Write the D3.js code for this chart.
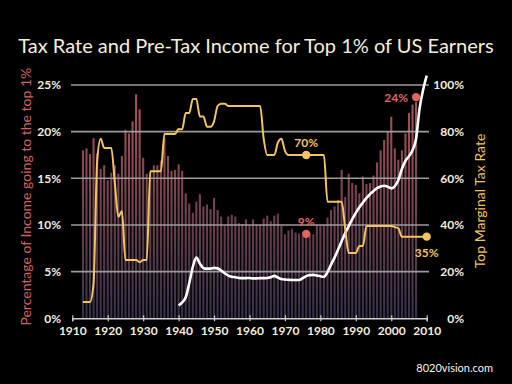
<!DOCTYPE html>
<html>
<head>
<meta charset="utf-8">
<script src="https://cdn.jsdelivr.net/npm/d3@7"></script>
<style>
  html, body { margin: 0; padding: 0; background: #000; }
  svg { display: block; }
</style>
</head>
<body>
<div id="chart"></div>
<script>
// Share of pre-tax income going to the top 1%, one bar per year from 1913
const incomeStart = 1913
const incomeShare = [
  18.0, 18.2, 17.6, 19.3, 17.7, 16.0, 16.4, 14.8, 15.6, 16.4,
  15.5, 17.4, 20.2, 19.8, 21.1, 24.0, 22.4, 17.2, 15.5, 15.7,
  16.4, 16.4, 16.9, 19.3, 17.4, 15.8, 15.9, 16.5, 15.8, 13.4,
  12.3, 11.3, 12.5, 13.3, 12.0, 12.2, 11.7, 12.9, 11.6, 10.9,
  9.9, 10.9, 11.1, 10.9, 10.2, 10.1, 10.6, 10.0, 10.6, 10.0,
  10.0, 10.7, 11.0, 10.4, 11.0, 11.2, 9.9, 9.0, 9.4, 9.6,
  9.2, 9.1, 8.9, 8.9, 9.0, 9.0, 10.0, 10.0, 10.0, 10.8,
  11.6, 12.0, 12.7, 15.9, 13.0, 15.5, 14.5, 14.3, 13.4, 15.2,
  14.4, 14.5, 15.3, 16.7, 18.0, 19.1, 20.0, 21.6, 18.2, 17.0,
  18.0, 19.8, 22.0, 22.9, 23.2
]

// Top marginal tax rate (right axis)
const taxYears = [1913, 1915, 1916, 1917, 1918, 1919, 1921, 1922, 1923, 1924,
  1925, 1928, 1929, 1930, 1931, 1932, 1935, 1936, 1939, 1940,
  1941, 1942, 1943, 1944, 1945, 1946, 1947, 1948, 1949, 1950,
  1951, 1952, 1953, 1954, 1963, 1964, 1965, 1967, 1968, 1969,
  1970, 1971, 1981, 1982, 1986, 1987, 1988, 1990, 1991, 1992,
  1993, 2000, 2001, 2002, 2003, 2010]
const taxRates = [7, 7, 15, 67, 77, 73, 73, 58, 43.5, 46,
  25, 25, 24, 25, 25, 63, 63, 79, 79, 81.1,
  81, 88, 88, 94, 94, 86.5, 86.5, 82.1, 82.1, 84.4,
  91, 92, 92, 91, 91, 77, 70, 70, 75.3, 77,
  71.8, 70, 70, 50, 50, 38.5, 28, 28, 31, 31,
  39.6, 39.6, 39.1, 38.6, 35, 35]

// White trend line (right axis scale)
const trendYears = [1940, 1941, 1942, 1943, 1944, 1945, 1946, 1947, 1948, 1949,
  1950, 1951, 1952, 1953, 1954, 1955, 1956, 1957, 1958, 1959,
  1960, 1961, 1962, 1963, 1964, 1965, 1966, 1967, 1968, 1969,
  1970, 1971, 1972, 1973, 1974, 1975, 1976, 1977, 1978, 1979,
  1980, 1981, 1982, 1983, 1984, 1985, 1986, 1987, 1988, 1989,
  1990, 1991, 1992, 1993, 1994, 1995, 1996, 1997, 1998, 1999,
  2000, 2001, 2002, 2003, 2004, 2005, 2006, 2007, 2008, 2009, 2010]
const trendValues = [5.5, 6.8, 9, 15, 22, 26, 23.5, 21.5, 21.3, 21.3,
  21.6, 21.4, 20.5, 19.3, 18.3, 17.8, 17.6, 17.3, 17.2, 17.2,
  17.3, 17.1, 17.1, 17.2, 17.2, 17.3, 17.6, 18.2, 17.5, 16.8,
  16.6, 16.5, 16.4, 16.4, 16.4, 17.2, 18.1, 18.5, 18.6, 18.3,
  18.0, 17.8, 19.8, 23, 26, 29.5, 33, 36.5, 39.5, 42.5,
  45.2, 47.6, 49.6, 51.6, 53.2, 54.6, 55.8, 56.5, 56.8, 56.4,
  55.7, 56.6, 59.3, 64, 67.5, 69.5, 72, 77, 90, 98, 104]

const xTicks = [1910, 1920, 1930, 1940, 1950, 1960, 1970, 1980, 1990, 2000, 2010]
const leftTicks = [0, 5, 10, 15, 20, 25]
const rightTicks = [0, 20, 40, 60, 80, 100]

// Callouts: income ones use the left scale, tax ones the right scale
const incomeNotes = [
  { year: 1976, value: 9.05, label: "9%", pos: "above" },
  { year: 2007, value: 23.7, label: "24%", pos: "left" }
]
const taxNotes = [
  { year: 1976, value: 70, label: "70%", pos: "above" },
  { year: 2010, value: 35, label: "35%", pos: "below" }
]

const width = 512, height = 384
const gold = "#f2c462", rose = "#e06666", cream = "#f4eedd"
const font = "Lato, 'Open Sans', sans-serif"

const svg = d3.select("#chart").append("svg")
  .attr("width", width).attr("height", height)
  .style("background", "#000")

const x = d3.scaleLinear().domain([1910, 2010]).range([72.3, 426.7])
const yL = d3.scaleLinear().domain([0, 25]).range([318.3, 85])
const yR = d3.scaleLinear().domain([0, 100]).range([318.3, 85])

// bar gradient, red at the top fading to dusky purple
const grad = svg.append("defs").append("linearGradient")
  .attr("id", "barGrad")
  .attr("gradientUnits", "userSpaceOnUse")
  .attr("x1", 0).attr("x2", 0).attr("y1", yL(25)).attr("y2", yL(0))
grad.append("stop").attr("offset", 0).attr("stop-color", "#b05656")
grad.append("stop").attr("offset", 1).attr("stop-color", "#37304a")

// title
svg.append("text")
  .attr("x", width / 2).attr("y", 53)
  .attr("text-anchor", "middle")
  .attr("fill", cream)
  .attr("font-family", font)
  .attr("font-size", "20px")
  .text("Tax Rate and Pre-Tax Income for Top 1% of US Earners")

// --- bars ---
const barW = 2.1
svg.append("g").selectAll("rect")
  .data(incomeShare)
  .join("rect")
  .attr("x", (d, i) => x(incomeStart + i) - barW / 2)
  .attr("y", d => yL(d))
  .attr("width", barW)
  .attr("height", d => yL(0) - yL(d))
  .attr("fill", "url(#barGrad)")

// --- gridlines, drawn over the bars ---
svg.append("g").selectAll("line")
  .data(leftTicks.slice(1))
  .join("line")
  .attr("x1", 71).attr("x2", 429)
  .attr("y1", d => yL(d)).attr("y2", d => yL(d))
  .attr("stroke", "#9c9c9c")
  .attr("stroke-width", 1.6)

// X axis
const xAxis = svg.append("g")
  .attr("transform", `translate(0,${yL(0)})`)
  .call(d3.axisBottom(x).tickValues(xTicks).tickSize(3).tickFormat(d3.format("d")))
xAxis.select(".domain").attr("stroke", "#cfcfcf").attr("stroke-width", 1.4)
xAxis.selectAll(".tick line").attr("y1", -3).attr("stroke", "#cfcfcf").attr("stroke-width", 1.2)
xAxis.selectAll("text")
  .attr("y", 17).attr("dy", 0)
  .attr("fill", cream)
  .attr("font-family", font)
  .attr("font-weight", "bold")
  .attr("font-size", "12px")

// left axis
const left = svg.append("g")
  .attr("transform", `translate(72,0)`)
  .call(d3.axisLeft(yL).tickValues(leftTicks).tickSize(0).tickPadding(11).tickFormat(d => d + "%"))
left.select(".domain").remove()
left.selectAll("text")
  .attr("fill", cream)
  .attr("font-family", font)
  .attr("font-weight", "bold")
  .attr("font-size", "12px")

// right axis
const right = svg.append("g")
  .attr("transform", `translate(427,0)`)
  .call(d3.axisRight(yR).tickValues(rightTicks).tickSize(0).tickFormat(d => d + "%"))
right.select(".domain").remove()
right.selectAll("text")
  .attr("x", 37)
  .attr("text-anchor", "end")
  .attr("fill", cream)
  .attr("font-family", font)
  .attr("font-weight", "bold")
  .attr("font-size", "12px")

// axis titles
svg.append("text")
  .attr("transform", `translate(31,${(yL(0) + yL(25)) / 2 - 5}) rotate(-90)`)
  .attr("text-anchor", "middle")
  .attr("fill", "#cf6464")
  .attr("font-family", font)
  .attr("font-size", "14px")
  .text("Percentage of Income going to the top 1%")

svg.append("text")
  .attr("transform", `translate(485,201) rotate(-90)`)
  .attr("text-anchor", "middle")
  .attr("fill", gold)
  .attr("font-family", font)
  .attr("font-size", "14px")
  .text("Top Marginal Tax Rate")

// --- white trend line ---
const trendLine = d3.line()
  .x((d, i) => x(trendYears[i]))
  .y(d => yR(d))
  .curve(d3.curveMonotoneX)
svg.append("path")
  .datum(trendValues)
  .attr("d", trendLine)
  .attr("fill", "none")
  .attr("stroke", "#ffffff")
  .attr("stroke-width", 2.6)

// --- tax rate line ---
const taxLine = d3.line()
  .x((d, i) => x(taxYears[i]))
  .y(d => yR(d))
  .curve(d3.curveMonotoneX)
svg.append("path")
  .datum(taxRates)
  .attr("d", taxLine)
  .attr("fill", "none")
  .attr("stroke", gold)
  .attr("stroke-width", 2)

// --- callouts ---
function note(n, yScale, color) {
  const cx = x(n.year), cy = yScale(n.value)
  svg.append("circle")
    .attr("cx", cx).attr("cy", cy).attr("r", 4.2)
    .attr("fill", color)
  const t = svg.append("text")
    .attr("fill", color)
    .attr("font-family", font)
    .attr("font-weight", "bold")
    .attr("font-size", "12px")
    .text(n.label)
  if (n.pos === "above") t.attr("x", cx).attr("y", cy - 8).attr("text-anchor", "middle")
  if (n.pos === "below") t.attr("x", cx).attr("y", cy + 20).attr("text-anchor", "middle")
  if (n.pos === "left") t.attr("x", cx - 8).attr("y", cy + 4.5).attr("text-anchor", "end")
}
incomeNotes.forEach(n => note(n, yL, rose))
taxNotes.forEach(n => note(n, yR, gold))

// credit
svg.append("text")
  .attr("x", 493).attr("y", 372)
  .attr("text-anchor", "end")
  .attr("fill", "#f4f4f4")
  .attr("font-family", font)
  .attr("font-size", "11px")
  .text("8020vision.com")
</script>
</body>
</html>
